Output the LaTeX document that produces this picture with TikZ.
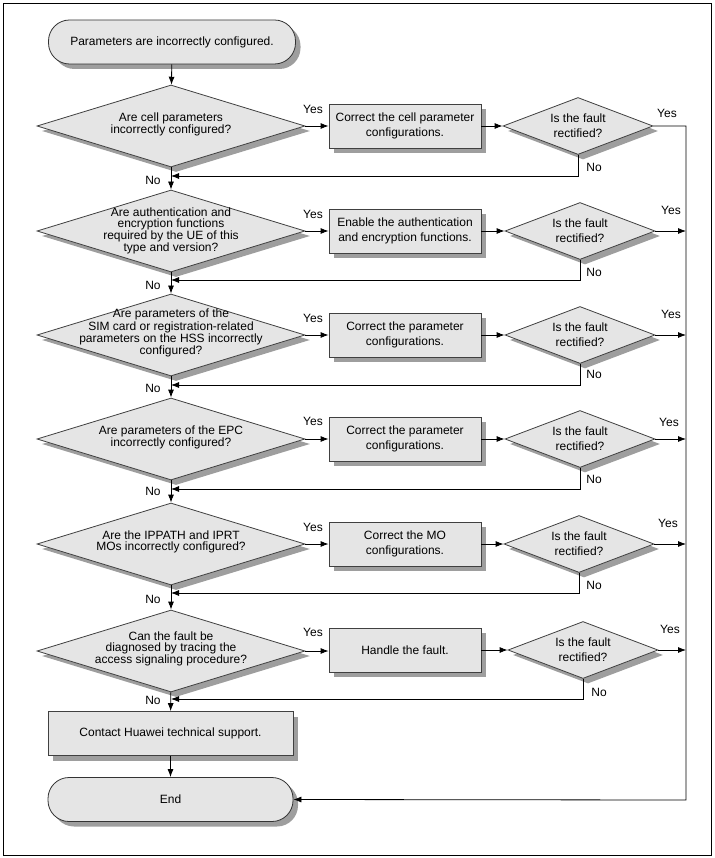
\documentclass[tikz,border=0pt]{standalone}
\usepackage{fontspec}
\setmainfont{Liberation Sans}
\usetikzlibrary{positioning, shapes.geometric, shadows, arrows.meta}

\tikzset{
    every node/.style={font=\fontsize{12}{10.7}\selectfont, inner sep=0pt},
    box_shadow/.style={drop shadow={shadow xshift=5pt, shadow yshift=-5pt, fill=black!38, opacity=1}},
    terminal/.style={draw=black!80, fill=black!10, line width=0.8pt, rounded corners=21pt,
        minimum width=247pt, minimum height=44pt, box_shadow},
    process/.style={draw=black!75, fill=black!10, line width=0.8pt, minimum width=152pt,
        minimum height=44pt, align=center, font=\fontsize{12}{15}\selectfont, box_shadow},
    decision/.style={diamond, draw=black!75, fill=black!10, line width=0.8pt,
        minimum width=268pt, minimum height=82pt, box_shadow},
    check/.style={decision, minimum width=150pt, minimum height=57pt},
    check_text/.style={align=center, font=\fontsize{12}{15}\selectfont},
    flow/.style={-{Latex[length=8pt, width=6pt]}, line width=0.8pt},
}

\begin{document}
\begin{tikzpicture}[x=1pt, y=-1pt]
    \useasboundingbox (0, 0) rectangle (714, 858);
    \draw [line width=0.8pt] (3, 3) rectangle (711, 855);

    \node [terminal] (start) at (172, 42) {Parameters are incorrectly configured.};

    % row 1: cell parameters
    \node [decision] (cell_q) at (171, 126) {};
    \node [align=center] (cell_q_text) at (171, 124) {Are cell parameters\\incorrectly configured?};
    \node [process] (cell_fix) at (405, 126) {Correct the cell parameter\\configurations.};
    \node [check] (cell_ok) at (578, 126) {};
    \node [check_text] (cell_ok_text) at (cell_ok) {Is the fault\\rectified?};

    % row 2: authentication and encryption
    \node [decision] (auth_q) at (171, 231) {};
    \node [align=center] (auth_q_text) at (171, 231) {Are authentication and\\encryption functions\\required by the UE of this\\type and version?};
    \node [process] (auth_fix) at (405, 231) {Enable the authentication\\and encryption functions.};
    \node [check] (auth_ok) at (580, 231) {};
    \node [check_text] (auth_ok_text) at (auth_ok) {Is the fault\\rectified?};

    % row 3: SIM card and HSS
    \node [decision] (hss_q) at (171, 335) {};
    \node [align=center] (hss_q_text) at (171, 333) {Are parameters of the\\SIM card or registration-related\\parameters on the HSS incorrectly\\configured?};
    \node [process] (hss_fix) at (405, 335) {Correct the parameter\\configurations.};
    \node [check] (hss_ok) at (580, 335) {};
    \node [check_text] (hss_ok_text) at (hss_ok) {Is the fault\\rectified?};

    % row 4: EPC
    \node [decision] (epc_q) at (171, 439) {};
    \node [align=center] (epc_q_text) at (171, 437) {Are parameters of the EPC\\incorrectly configured?};
    \node [process] (epc_fix) at (405, 439) {Correct the parameter\\configurations.};
    \node [check] (epc_ok) at (580, 439) {};
    \node [check_text] (epc_ok_text) at (epc_ok) {Is the fault\\rectified?};

    % row 5: IPPATH and IPRT
    \node [decision] (mo_q) at (171, 544) {};
    \node [align=center] (mo_q_text) at (171, 542) {Are the IPPATH and IPRT\\MOs incorrectly configured?};
    \node [process] (mo_fix) at (405, 544) {Correct the MO\\configurations.};
    \node [check] (mo_ok) at (579, 544) {};
    \node [check_text] (mo_ok_text) at (mo_ok) {Is the fault\\rectified?};

    % row 6: signaling trace
    \node [decision] (trace_q) at (171, 651) {};
    \node [align=center] (trace_q_text) at (171, 649) {Can the fault be\\diagnosed by tracing the\\access signaling procedure?};
    \node [process] (trace_fix) at (405, 650) {Handle the fault.};
    \node [check] (trace_ok) at (583, 650) {};
    \node [check_text] (trace_ok_text) at (trace_ok) {Is the fault\\rectified?};

    \node [process, minimum width=245pt] (support) at (170.5, 733.5) {Contact Huawei technical support.};
    \node [terminal, minimum width=245pt] (end) at (170.5, 799.5) {End};

    % merge points on the trunk and the rail
    \coordinate (cell_no_pt) at (171, 176);
    \coordinate (auth_no_pt) at (171, 280);
    \coordinate (hss_no_pt) at (171, 385);
    \coordinate (epc_no_pt) at (171, 489);
    \coordinate (mo_no_pt) at (171, 593);
    \coordinate (trace_no_pt) at (171, 699);
    \coordinate (rail_top) at (686, 126);
    \coordinate (rail_bottom) at (686, 800);

    % trunk
    \draw [flow] (start) -- (cell_q);
    \draw [flow] (cell_q) -- (auth_q);
    \draw [flow] (auth_q) -- (hss_q);
    \draw [flow] (hss_q) -- (epc_q);
    \draw [flow] (epc_q) -- (mo_q);
    \draw [flow] (mo_q) -- (trace_q);
    \draw [flow] (trace_q) -- (support);
    \draw [flow] (support) -- (end);

    % yes branches
    \draw [flow] (cell_q) -- (cell_fix);
    \draw [flow] (cell_fix) -- (cell_ok);
    \draw [flow] (auth_q) -- (auth_fix);
    \draw [flow] (auth_fix) -- (auth_ok);
    \draw [flow] (hss_q) -- (hss_fix);
    \draw [flow] (hss_fix) -- (hss_ok);
    \draw [flow] (epc_q) -- (epc_fix);
    \draw [flow] (epc_fix) -- (epc_ok);
    \draw [flow] (mo_q) -- (mo_fix);
    \draw [flow] (mo_fix) -- (mo_ok);
    \draw [flow] (trace_q.east) -- (trace_fix.west |- trace_q.east);
    \draw [flow] (trace_fix) -- (trace_ok);

    % not rectified: back to the trunk
    \draw [flow] (cell_ok.south) |- (cell_no_pt);
    \draw [flow] (auth_ok.south) |- (auth_no_pt);
    \draw [flow] (hss_ok.south) |- (hss_no_pt);
    \draw [flow] (epc_ok.south) |- (epc_no_pt);
    \draw [flow] (mo_ok.south) |- (mo_no_pt);
    \draw [flow] (trace_ok.south) |- (trace_no_pt);

    % rectified: down the rail to the end
    \draw [flow] (cell_ok.east) -- (rail_top) -- (rail_bottom) -- (end.east);
    \draw [flow] (auth_ok.east) -- (auth_ok.east -| rail_top);
    \draw [flow] (hss_ok.east) -- (hss_ok.east -| rail_top);
    \draw [flow] (epc_ok.east) -- (epc_ok.east -| rail_top);
    \draw [flow] (mo_ok.east) -- (mo_ok.east -| rail_top);
    \draw [flow] (trace_ok.east) -- (trace_ok.east -| rail_top);

    % labels
    \node (cell_yes) at (313, 109) {Yes};
    \node (auth_yes) at (313, 214) {Yes};
    \node (hss_yes) at (313, 318) {Yes};
    \node (epc_yes) at (313, 421) {Yes};
    \node (mo_yes) at (313, 527) {Yes};
    \node (trace_yes) at (313, 632) {Yes};
    \node (cell_ok_yes) at (667, 113) {Yes};
    \node (auth_ok_yes) at (671, 210) {Yes};
    \node (hss_ok_yes) at (671, 314) {Yes};
    \node (epc_ok_yes) at (669, 422) {Yes};
    \node (mo_ok_yes) at (668, 523) {Yes};
    \node (trace_ok_yes) at (670, 629) {Yes};
    \node (cell_ok_no) at (594, 167) {No};
    \node (auth_ok_no) at (594, 272) {No};
    \node (hss_ok_no) at (594, 374) {No};
    \node (epc_ok_no) at (594, 479) {No};
    \node (mo_ok_no) at (594, 585) {No};
    \node (trace_ok_no) at (599, 692) {No};
    \node (cell_no) at (153, 180) {No};
    \node (auth_no) at (153, 285) {No};
    \node (hss_no) at (153, 388) {No};
    \node (epc_no) at (153, 491) {No};
    \node (mo_no) at (153, 599) {No};
    \node (trace_no) at (153, 700) {No};
\end{tikzpicture}
\end{document}
